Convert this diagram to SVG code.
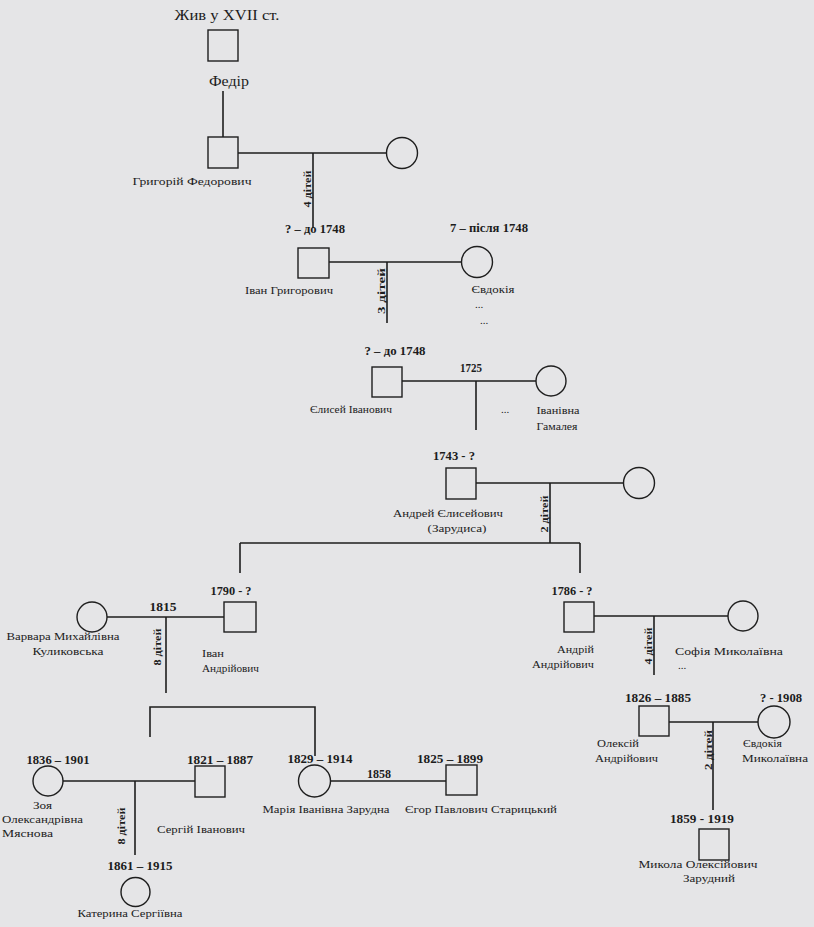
<svg xmlns="http://www.w3.org/2000/svg" width="814" height="927" viewBox="0 0 814 927">
<style>
text{font-family:"Liberation Serif","Times New Roman",serif;fill:#1c1c1c}
.n{font-size:11px}
.d{font-size:11.5px;font-weight:bold}
.k{font-size:10.5px;font-weight:bold}
.m{text-anchor:middle}
.e{text-anchor:end}
.sh{fill:none;stroke:#1e1e1e;stroke-width:1.4}
.ln{fill:none;stroke:#1e1e1e;stroke-width:1.6}
</style>
<rect x="0" y="0" width="814" height="927" fill="#e5e5e7"/>
<g id="connectors">
<path class="ln" d="M223,91V137"/>
<path class="ln" d="M238,153H387M313,153V228"/>
<path class="ln" d="M329,262H461M387,262V323"/>
<path class="ln" d="M402,381H536M476,381V430"/>
<path class="ln" d="M476,483H624M550,483V543M240,543H580M240,543V573M580,543V573"/>
<path class="ln" d="M107,617H224M166,617V693"/>
<path class="ln" d="M594,616H728M654,616V675"/>
<path class="ln" d="M150,737V707H315V756"/>
<path class="ln" d="M63,781H195M135,781V855"/>
<path class="ln" d="M330,781H446"/>
<path class="ln" d="M669,722H758M713,722V810"/>
</g>
<g id="fedir">
<text x="227" y="20" class="m" style="font-size:15.5px" textLength="105" lengthAdjust="spacingAndGlyphs">Жив у XVII ст.</text>
<rect class="sh" x="208" y="30" width="30" height="31"/>
<text x="229" y="86" class="m" style="font-size:14.5px" textLength="40" lengthAdjust="spacingAndGlyphs">Федір</text>
</g>
<g id="hryhorii">
<rect class="sh" x="208" y="137" width="30" height="31"/>
<text x="192" y="185" class="m n" textLength="119" lengthAdjust="spacingAndGlyphs">Григорій Федорович</text>
</g>
<g id="hryhorii-wife"><circle class="sh" cx="402" cy="153" r="15.5"/></g>
<text transform="translate(311,189) rotate(-90)" class="m k" textLength="37" lengthAdjust="spacingAndGlyphs">4 дітей</text>
<g id="ivan">
<text x="315" y="233" class="m d" textLength="60" lengthAdjust="spacingAndGlyphs">? – до 1748</text>
<rect class="sh" x="298" y="248" width="31" height="30"/>
<text x="289" y="294" class="m n" textLength="88" lengthAdjust="spacingAndGlyphs">Іван Григорович</text>
</g>
<g id="yevdokiia">
<text x="489" y="232" class="m d" textLength="78" lengthAdjust="spacingAndGlyphs">7 – після 1748</text>
<circle class="sh" cx="477" cy="262" r="15.5"/>
<text x="493" y="293" class="m n" textLength="43" lengthAdjust="spacingAndGlyphs">Євдокія</text>
<text x="479" y="308" class="m n">...</text>
<text x="484" y="324" class="m n">...</text>
</g>
<text transform="translate(385,291) rotate(-90)" class="m k" textLength="46" lengthAdjust="spacingAndGlyphs">3 дітей</text>
<g id="yelysei">
<text x="395" y="355" class="m d" textLength="61" lengthAdjust="spacingAndGlyphs">? – до 1748</text>
<rect class="sh" x="372" y="367" width="30" height="30"/>
<text x="351" y="413" class="m n" textLength="82" lengthAdjust="spacingAndGlyphs">Єлисей Іванович</text>
</g>
<text x="471" y="372" class="m d" textLength="22" lengthAdjust="spacingAndGlyphs">1725</text>
<text x="505" y="413" class="m n">...</text>
<g id="ivanivna">
<circle class="sh" cx="551" cy="381" r="15"/>
<text x="558" y="414" class="m n" textLength="43" lengthAdjust="spacingAndGlyphs">Іванівна</text>
<text x="557" y="430" class="m n" textLength="41" lengthAdjust="spacingAndGlyphs">Гамалея</text>
</g>
<g id="andrei">
<text x="454" y="460" class="m d" textLength="42" lengthAdjust="spacingAndGlyphs">1743 - ?</text>
<rect class="sh" x="446" y="468" width="30" height="31"/>
<text x="448" y="517" class="m n" textLength="110" lengthAdjust="spacingAndGlyphs">Андрей Єлисейович</text>
<text x="457" y="532" class="m n" textLength="59" lengthAdjust="spacingAndGlyphs">(Зарудиса)</text>
</g>
<g id="andrei-wife"><circle class="sh" cx="639" cy="483" r="15.5"/></g>
<text transform="translate(548,514) rotate(-90)" class="m k" textLength="37" lengthAdjust="spacingAndGlyphs">2 дітей</text>
<g id="ivan-andriiovych">
<text x="231" y="595" class="m d" textLength="41" lengthAdjust="spacingAndGlyphs">1790 - ?</text>
<rect class="sh" x="224" y="602" width="32" height="30"/>
<text x="202" y="657" class="n" textLength="22" lengthAdjust="spacingAndGlyphs">Іван</text>
<text x="202" y="672" class="n" textLength="57" lengthAdjust="spacingAndGlyphs">Андрійович</text>
</g>
<g id="varvara">
<circle class="sh" cx="92" cy="617" r="15"/>
<text x="63" y="640" class="m n" textLength="113" lengthAdjust="spacingAndGlyphs">Варвара Михайлівна</text>
<text x="68" y="655" class="m n" textLength="71" lengthAdjust="spacingAndGlyphs">Куликовська</text>
</g>
<text x="163" y="611" class="m d" textLength="27" lengthAdjust="spacingAndGlyphs">1815</text>
<text transform="translate(161,647) rotate(-90)" class="m k" textLength="37" lengthAdjust="spacingAndGlyphs">8 дітей</text>
<g id="andrii-andriiovych">
<text x="572" y="595" class="m d" textLength="41" lengthAdjust="spacingAndGlyphs">1786 - ?</text>
<rect class="sh" x="564" y="602" width="30" height="30"/>
<text x="594" y="653" class="e n" textLength="37" lengthAdjust="spacingAndGlyphs">Андрій</text>
<text x="594" y="668" class="e n" textLength="62" lengthAdjust="spacingAndGlyphs">Андрійович</text>
</g>
<g id="sofiia">
<circle class="sh" cx="743" cy="616" r="15"/>
<text x="729" y="655" class="m n" textLength="108" lengthAdjust="spacingAndGlyphs">Софія Миколаївна</text>
<text x="682" y="669" class="m n">...</text>
</g>
<text transform="translate(652,646) rotate(-90)" class="m k" textLength="37" lengthAdjust="spacingAndGlyphs">4 дітей</text>
<g id="oleksii">
<text x="658" y="702" class="m d" textLength="66" lengthAdjust="spacingAndGlyphs">1826 – 1885</text>
<rect class="sh" x="639" y="706" width="30" height="30"/>
<text x="597" y="747" class="n" textLength="42" lengthAdjust="spacingAndGlyphs">Олексій</text>
<text x="595" y="762" class="n" textLength="63" lengthAdjust="spacingAndGlyphs">Андрійович</text>
</g>
<g id="yevdokiia-m">
<text x="781" y="702" class="m d" textLength="42" lengthAdjust="spacingAndGlyphs">? - 1908</text>
<circle class="sh" cx="774" cy="722" r="16"/>
<text x="743" y="747" class="n" textLength="39" lengthAdjust="spacingAndGlyphs">Євдокія</text>
<text x="742" y="762" class="n" textLength="66" lengthAdjust="spacingAndGlyphs">Миколаївна</text>
</g>
<text transform="translate(712,750) rotate(-90)" class="m k" textLength="40" lengthAdjust="spacingAndGlyphs">2 дітей</text>
<g id="mykola">
<text x="702" y="823" class="m d" textLength="64" lengthAdjust="spacingAndGlyphs">1859 - 1919</text>
<rect class="sh" x="699" y="829" width="30" height="31"/>
<text x="698" y="868" class="m n" textLength="119" lengthAdjust="spacingAndGlyphs">Микола Олексійович</text>
<text x="709" y="882" class="m n" textLength="52" lengthAdjust="spacingAndGlyphs">Зарудний</text>
</g>
<g id="zoia">
<text x="58" y="764" class="m d" textLength="63" lengthAdjust="spacingAndGlyphs">1836 – 1901</text>
<circle class="sh" cx="48" cy="781" r="15"/>
<text x="33" y="809" class="n" textLength="19" lengthAdjust="spacingAndGlyphs">Зоя</text>
<text x="2" y="823" class="n" textLength="81" lengthAdjust="spacingAndGlyphs">Олександрівна</text>
<text x="2" y="837" class="n" textLength="51" lengthAdjust="spacingAndGlyphs">Мяснова</text>
</g>
<g id="serhii">
<text x="220" y="764" class="m d" textLength="66" lengthAdjust="spacingAndGlyphs">1821 – 1887</text>
<rect class="sh" x="195" y="766" width="30" height="31"/>
<text x="201" y="833" class="m n" textLength="88" lengthAdjust="spacingAndGlyphs">Сергій Іванович</text>
</g>
<text transform="translate(125,826) rotate(-90)" class="m k" textLength="37" lengthAdjust="spacingAndGlyphs">8 дітей</text>
<g id="mariia">
<text x="320" y="763" class="m d" textLength="65" lengthAdjust="spacingAndGlyphs">1829 – 1914</text>
<circle class="sh" cx="314.5" cy="781" r="16"/>
<text x="326" y="813" class="m n" textLength="127" lengthAdjust="spacingAndGlyphs">Марія Іванівна Зарудна</text>
</g>
<text x="379" y="778" class="m d" textLength="24" lengthAdjust="spacingAndGlyphs">1858</text>
<g id="yehor">
<text x="450" y="763" class="m d" textLength="66" lengthAdjust="spacingAndGlyphs">1825 – 1899</text>
<rect class="sh" x="446" y="765" width="31" height="30"/>
<text x="481" y="813" class="m n" textLength="152" lengthAdjust="spacingAndGlyphs">Єгор Павлович Старицький</text>
</g>
<g id="kateryna">
<text x="140" y="870" class="m d" textLength="65" lengthAdjust="spacingAndGlyphs">1861 – 1915</text>
<circle class="sh" cx="135.5" cy="892" r="14.5"/>
<text x="130" y="917" class="m n" textLength="105" lengthAdjust="spacingAndGlyphs">Катерина Сергіївна</text>
</g>
</svg>
